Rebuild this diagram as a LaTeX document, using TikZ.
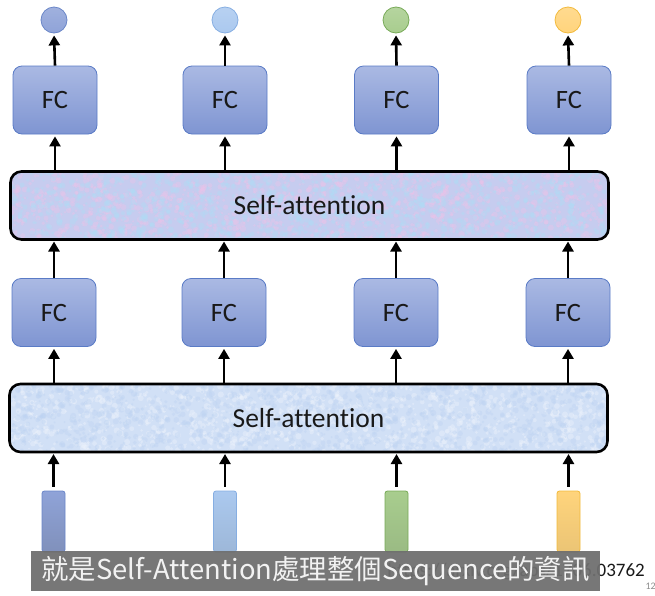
\documentclass[tikz,border=0pt]{standalone}
\usepackage{fontspec}
\setmainfont{Carlito}[Ligatures=NoCommon]
\newfontfamily\cjk{Noto Sans CJK TC}
\usetikzlibrary{arrows.meta,shapes.geometric}
\definecolor{fcTop}{HTML}{AAB9E3}
\definecolor{fcBot}{HTML}{7F95D2}
\definecolor{fcLine}{HTML}{5A7BC6}
\definecolor{saTopFill}{HTML}{C6CCEF}
\definecolor{saTopPink}{HTML}{EBC3E9}
\definecolor{saTopCyan}{HTML}{AEDDF6}
\definecolor{saBotFill}{HTML}{D1E0F6}
\definecolor{saBotLight}{HTML}{EDF3FC}
\definecolor{saBotBlue}{HTML}{BDD3F2}
\definecolor{capGray}{HTML}{6E6E6E}
\definecolor{capText}{HTML}{F2F2F2}
\definecolor{blueA}{HTML}{8FA3D8}
\definecolor{blueAl}{HTML}{6A86C8}
\definecolor{blueB}{HTML}{ABC9EF}
\definecolor{blueBl}{HTML}{86AEE2}
\definecolor{greenC}{HTML}{A8CD8E}
\definecolor{greenCl}{HTML}{78AA58}
\definecolor{yellowD}{HTML}{FFD47C}
\definecolor{yellowDl}{HTML}{F2BA3C}
\tikzset{
  fcbox/.style={draw=fcLine, line width=0.8pt, rounded corners=9pt,
    top color=fcTop, bottom color=fcBot, minimum width=84pt, minimum height=68pt,
    inner sep=0pt, font=\fontsize{26.5}{28}\selectfont, text=black!90},
  sabox/.style={draw=black, line width=2.6pt, rounded corners=11pt, outer sep=0pt,
    minimum width=598pt, minimum height=68pt, inner sep=0pt,
    font=\fontsize{27.5}{29}\selectfont, text=black!90},
  outdot/.style={circle, minimum size=26pt, inner sep=0pt, line width=0.8pt},
  inrect/.style={rectangle, rounded corners=2.5pt, minimum width=23pt, minimum height=61pt, inner sep=0pt, line width=0.8pt},
  arr/.style={line width=2.6pt, -{Triangle[length=10pt,width=11pt]}, shorten >=2pt},
}
% #1,#2 top-left corner; #3 base colour; #4,#5 blotch colours; #6 seed
\newcommand\mySAtexture[6]{%
  \begin{scope}
    \fill[#3, rounded corners=11pt] (#1,#2) rectangle ++(598,68);
    \clip[rounded corners=11pt] (#1,#2) rectangle ++(598,68);
    \pgfmathsetseed{#6}
    \foreach \i in {1,...,1100}{
      \pgfmathsetmacro\rx{#1+598*rnd}\pgfmathsetmacro\ry{#2+68*rnd}\pgfmathsetmacro\rr{1+2.2*rnd}
      \fill[#4, opacity=0.4] (\rx,\ry) circle (\rr);
    }
    \foreach \i in {1,...,1100}{
      \pgfmathsetmacro\rx{#1+598*rnd}\pgfmathsetmacro\ry{#2+68*rnd}\pgfmathsetmacro\rr{1+2.2*rnd}
      \fill[#5, opacity=0.4] (\rx,\ry) circle (\rr);
    }
  \end{scope}}
\begin{document}
\begin{tikzpicture}[x=1pt,y=-1pt]
\useasboundingbox (0,0) rectangle (655,595);
% outputs
\node[outdot, draw=blueAl, top color=blueA!85!white, bottom color=blueA] (o1) at (54,20) {};
\node[outdot, draw=blueBl, top color=blueB!85!white, bottom color=blueB] (o2) at (225,20) {};
\node[outdot, draw=greenCl, top color=greenC!85!white, bottom color=greenC] (o3) at (396,20) {};
\node[outdot, draw=yellowDl, top color=yellowD!85!white, bottom color=yellowD] (o4) at (568,20) {};
% upper FC
\node[fcbox] (f1) at (55,100) {FC};
\node[fcbox] (f2) at (225,100) {FC};
\node[fcbox] (f3) at (396.5,100) {FC};
\node[fcbox] (f4) at (569,100) {FC};
% upper self-attention
\mySAtexture{10.5}{171.5}{saTopFill}{saTopPink}{saTopCyan}{7}
\node[sabox] (sa2) at (309.5,205.5) {Self-attention};
% lower FC
\node[fcbox] (g1) at (54,312.5) {FC};
\node[fcbox] (g2) at (224,312.5) {FC};
\node[fcbox] (g3) at (396,312.5) {FC};
\node[fcbox] (g4) at (568,312.5) {FC};
% lower self-attention
\mySAtexture{9.5}{384}{saBotFill}{saBotLight}{saBotBlue}{11}
\node[sabox] (sa1) at (308.5,418) {Self-attention};
% inputs
\node[inrect, draw=blueAl, top color=blueA, bottom color=blueA!85!black!95] (i1) at (53.5,521.5) {};
\node[inrect, draw=blueBl, top color=blueB, bottom color=blueB!90!black!97] (i2) at (225,521.5) {};
\node[inrect, draw=greenCl, top color=greenC, bottom color=greenC!90!black!97] (i3) at (396.5,521.5) {};
\node[inrect, draw=yellowDl, top color=yellowD, bottom color=yellowD!92!black!98] (i4) at (568.5,521.5) {};
% arrows input -> SA1
\foreach \k in {1,2,3,4}{
  \draw[arr, shorten <=4pt] (i\k.north) -- (i\k.north |- sa1.south);
}
% SA1 -> lower FC
\foreach \k in {1,2,3,4}{
  \draw[arr] (g\k.south |- sa1.north) -- (g\k.south);
}
% lower FC -> SA2
\foreach \k in {1,2,3,4}{
  \draw[arr] (g\k.north) -- (g\k.north |- sa2.south);
}
% SA2 -> upper FC
\foreach \k in {1,2,3,4}{
  \draw[arr] (f\k.south |- sa2.north) -- (f\k.south);
}
% upper FC -> outputs
\foreach \k in {1,2,3,4}{
  \draw[arr] (f\k.north) -- (o\k.south);
}
% reference link (behind caption)
\node[anchor=base east, font=\fontsize{19}{21}\selectfont, text=black!90, inner sep=0pt] (ref) at (645,576) {https://arxiv.org/abs/1706.03762};
\node[anchor=base east, font=\fontsize{10}{11}\selectfont, text=black!45, inner sep=0pt] (pg) at (656,589) {12};
% caption
\node[fill=capGray, fill opacity=0.94, text opacity=1, text=capText, minimum width=569pt, minimum height=40pt, inner sep=0pt,
  font=\cjk\fontsize{27.4}{29}\selectfont] (cap) at (315.5,571) {就是Self-Attention處理整個Sequence的資訊};
\end{tikzpicture}
\end{document}
